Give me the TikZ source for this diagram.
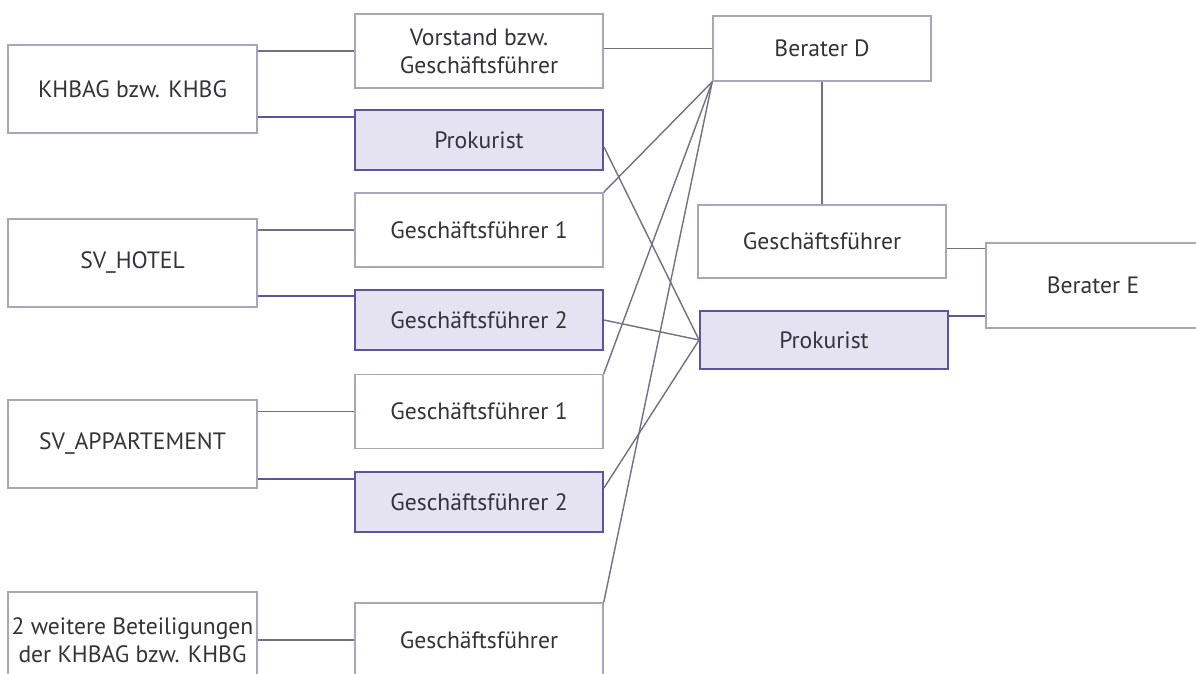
\documentclass[tikz,border=0pt]{standalone}
\usepackage{fontspec}
\setmainfont{PT Sans}
\usepackage{xcolor}
\usepackage{tikz}
\usetikzlibrary{calc}

\definecolor{boxgray}{HTML}{A8A6BC}
\definecolor{boxblue}{HTML}{5A54A4}
\definecolor{fillblue}{HTML}{E5E2F1}
\definecolor{linegray}{HTML}{727084}
\definecolor{txtgray}{HTML}{34333C}

\begin{document}
\begin{tikzpicture}[
    x=0.025cm, y=-0.025cm,
    b1/.style={rectangle, draw=boxgray, fill=white, line width=1pt, align=center, inner sep=0pt, text=txtgray, font=\fontsize{16.8}{20}\selectfont},
    b2/.style={b1, draw=boxblue, fill=fillblue, line width=1.3pt},
    colA/.style={minimum width=6.225cm, minimum height=2.2cm},
    colB/.style={minimum width=6.2cm, minimum height=1.85cm},
    colBs/.style={minimum width=6.2cm, minimum height=1.5cm},
    con/.style={draw=linegray, line width=1pt},
    conb/.style={draw=boxblue, line width=1.1pt}
]
    \fill [white] (0,0) rectangle (1196,674);
    \useasboundingbox (0,0) rectangle (1196,674);

    % companies
    \node [b1, colA] (khbag) at (132.5,89) {KHBAG bzw. KHBG};
    \node [b1, colA] (hotel) at (132.5,263) {SV\_HOTEL};
    \node [b1, colA] (app) at (132.5,444) {SV\_APPARTEMENT};
    \node [b1, colA, minimum height=2.4cm] (weitere) at (132.5,640) {2 weitere Beteiligungen\\der KHBAG bzw. KHBG};

    % officers
    \node [b1, colB] (vorstand) at (479,51) {Vorstand bzw.\\Geschäftsführer};
    \node [b2, colBs] (prok1) at (479,140) {Prokurist};
    \node [b1, colB] (gf1h) at (479,230) {Geschäftsführer 1};
    \node [b2, colBs] (gf2h) at (479,320) {Geschäftsführer 2};
    \node [b1, colB] (gf1a) at (479,411.5) {Geschäftsführer 1};
    \node [b2, colBs] (gf2a) at (479,502) {Geschäftsführer 2};
    \node [b1, colB] (gfb) at (479,640) {Geschäftsführer};

    % advisers
    \node [b1, minimum width=5.45cm, minimum height=1.625cm] (beraterD) at (822,48.5) {Berater D};
    \node [b1, minimum width=6.2cm, minimum height=1.825cm] (gfr) at (822,241.5) {Geschäftsführer};
    \node [b2, minimum width=6.2cm, minimum height=1.45cm] (prokr) at (824,340) {Prokurist};
    \node [b1, minimum width=5.35cm, minimum height=2.125cm] (beraterE) at (1093,285.5) {Berater E};

    % company -> officer
    \draw [con] (vorstand.west -| khbag.east) -- (vorstand.west);
    \coordinate (k2) at ($(prok1.north west)+(0,8)$);
    \draw [conb] (k2 -| khbag.east) -- (k2);
    \draw [con] (gf1h.west -| hotel.east) -- (gf1h.west);
    \coordinate (h2) at ($(gf2h.north west)+(0,7)$);
    \draw [conb] (h2 -| hotel.east) -- (h2);
    \draw [con] (gf1a.west -| app.east) -- (gf1a.west);
    \coordinate (a2) at ($(gf2a.north west)+(0,8)$);
    \draw [conb] (a2 -| app.east) -- (a2);
    \draw [con] (gfb.west -| weitere.east) -- (gfb.west);

    % officer -> adviser
    \draw [con] (beraterD.west -| vorstand.east) -- (beraterD.west);
    \draw [con] ($(prok1.east)+(0,7)$) -- (prokr.west);
    \draw [con] (gf1h.north east) -- (beraterD.south west);
    \draw [con] (gf2h.east) -- (prokr.west);
    \draw [con] (gf1a.north east) -- (beraterD.south west);
    \draw [con] ($(gf2a.east)+(0,-14)$) -- (prokr.west);
    \draw [con] (gfb.north east) -- (beraterD.south west);

    \draw [con] (beraterD.south) -- (gfr.north);
    \coordinate (e1) at ($(beraterE.north west)+(0,6)$);
    \draw [con] (e1 -| gfr.east) -- (e1);
    \coordinate (e2) at ($(prokr.north east)+(0,6)$);
    \draw [conb] (e2) -- (e2 -| beraterE.west);
\end{tikzpicture}
\end{document}
